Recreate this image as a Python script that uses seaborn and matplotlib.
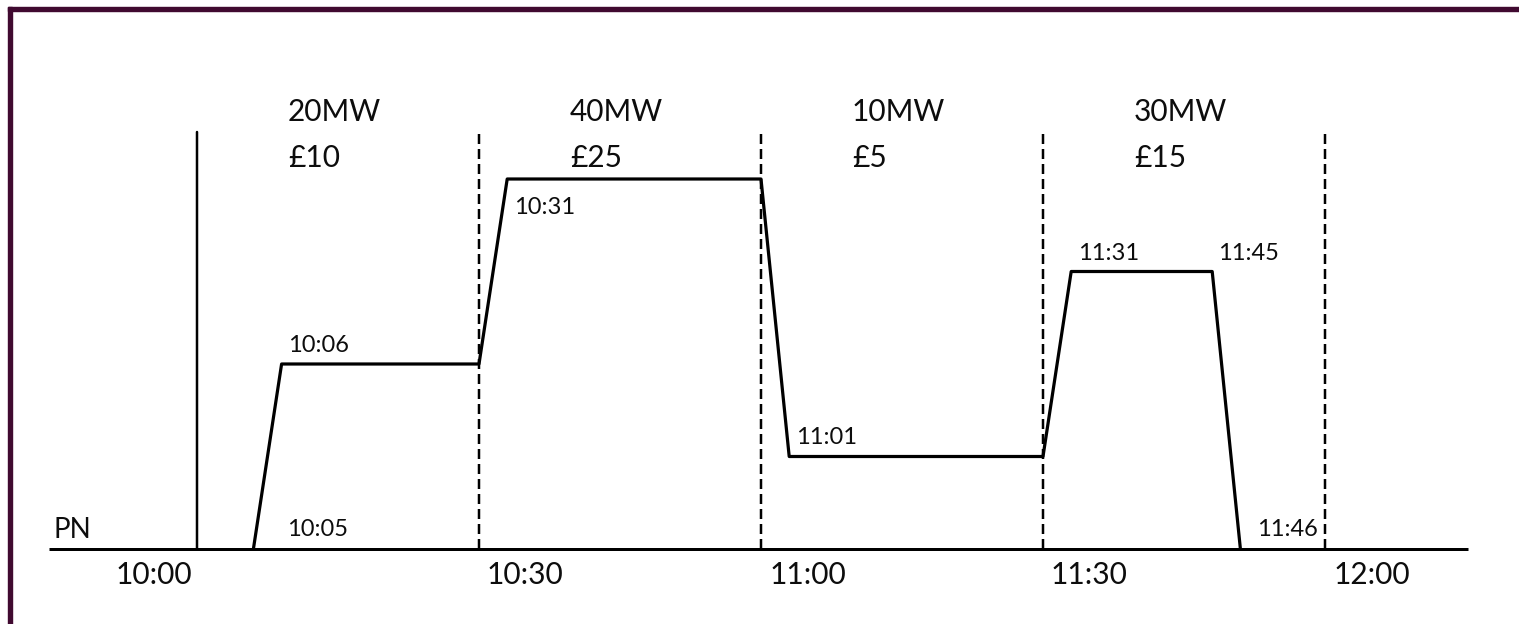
import matplotlib
matplotlib.use("Agg")
import matplotlib.pyplot as plt
from matplotlib.patches import Rectangle
import seaborn as sns
import pandas as pd

# profile: minutes after 10:00 and MW
profile_min = [6, 9, 30, 33, 60, 63, 90, 93, 108, 111]
profile_mw = [0, 20, 20, 40, 40, 10, 10, 30, 30, 0]

# point labels (index into profile) and texts
point_idx = [0, 1, 3, 5, 7, 8, 9]
point_text = ["10:05", "10:06", "10:31", "11:01", "11:31", "11:45", "11:46"]
point_off_px = [(34, 19), (6, 18), (7, -28), (7, 19), (7, 18), (6, 18), (17, 19)]

# half-hour grid
grid_min = [0, 30, 60, 90, 120]
grid_text = ["10:00", "10:30", "11:00", "11:30", "12:00"]
tick_off_px = [-43.5, 45.5, 46.5, 46, 46.5]

# block offers
block_mw = ["20MW", "40MW", "10MW", "30MW"]
block_price = ["£10", "£25", "£5", "£15"]
block_start = [0, 30, 60, 90]

sns.set_theme(style="white")
plt.rcParams["font.family"] = ["Lato", "DejaVu Sans"]

W, H = 1519, 624
X0, PX_MIN = 197, 9.4      # pixel of 10:00, pixels per minute
Y0, PX_MW = 549, 9.25      # pixel of 0 MW, pixels per MW

fig = plt.figure(figsize=(W / 100, H / 100), dpi=100)
ax = fig.add_axes([0, 0, 1, 1])
ax.set_xlim(-X0 / PX_MIN, (W - X0) / PX_MIN)
ax.set_ylim(-(H - Y0) / PX_MW, Y0 / PX_MW)
ax.axis("off")

px = 0.72  # points per pixel
top_mw = (Y0 - 132) / PX_MW
ink = "#0d0d0d"

# baseline
ax.plot([(49 - X0) / PX_MIN, (1468 - X0) / PX_MIN], [0, 0], color="black", lw=3 * px,
        solid_capstyle="butt")

# grid lines
for i, m in enumerate(grid_min):
    ls = "-" if i == 0 else (0, (4, 2))
    ax.plot([m, m], [0, top_mw], color="black", lw=2.5 * px, ls=ls)

df = pd.DataFrame({"minute": profile_min, "mw": profile_mw})
sns.lineplot(data=df, x="minute", y="mw", ax=ax, color="black", lw=3.2 * px,
             sort=False, estimator=None)
ax.set_xlabel("")
ax.set_ylabel("")

for i, t, (dx, dy) in zip(point_idx, point_text, point_off_px):
    ax.annotate(t, (profile_min[i], profile_mw[i]), xytext=(dx * px, dy * px),
                textcoords="offset points", ha="left", va="center",
                fontsize=17, color=ink)

for m, t, dx in zip(grid_min, grid_text, tick_off_px):
    ax.annotate(t, (m, 0), xytext=(dx * px, -26.5 * px), textcoords="offset points",
                ha="center", va="center", fontsize=21.5, color=ink)

ax.annotate("PN", (0, 0), xytext=((53 - X0) * px, 19 * px), textcoords="offset points",
            ha="left", va="center", fontsize=20, color=ink)

for s, mw, pr in zip(block_start, block_mw, block_price):
    ax.annotate(mw, (s, top_mw), xytext=(91 * px, 20 * px), textcoords="offset points",
                ha="left", va="center", fontsize=21.5, color=ink)
    ax.annotate(pr, (s, top_mw), xytext=(91 * px, -26 * px), textcoords="offset points",
                ha="left", va="center", fontsize=21.5, color=ink)

# frame strips on top and left
border = "#400a30"
fig.patches.append(Rectangle((8 / W, 1 - 11 / H), 1, 4 / H, transform=fig.transFigure,
                             color=border, zorder=5))
fig.patches.append(Rectangle((8 / W, 0), 4 / W, 1 - 7 / H, transform=fig.transFigure,
                             color=border, zorder=5))

fig.savefig("out.png", dpi=100, facecolor="white")
